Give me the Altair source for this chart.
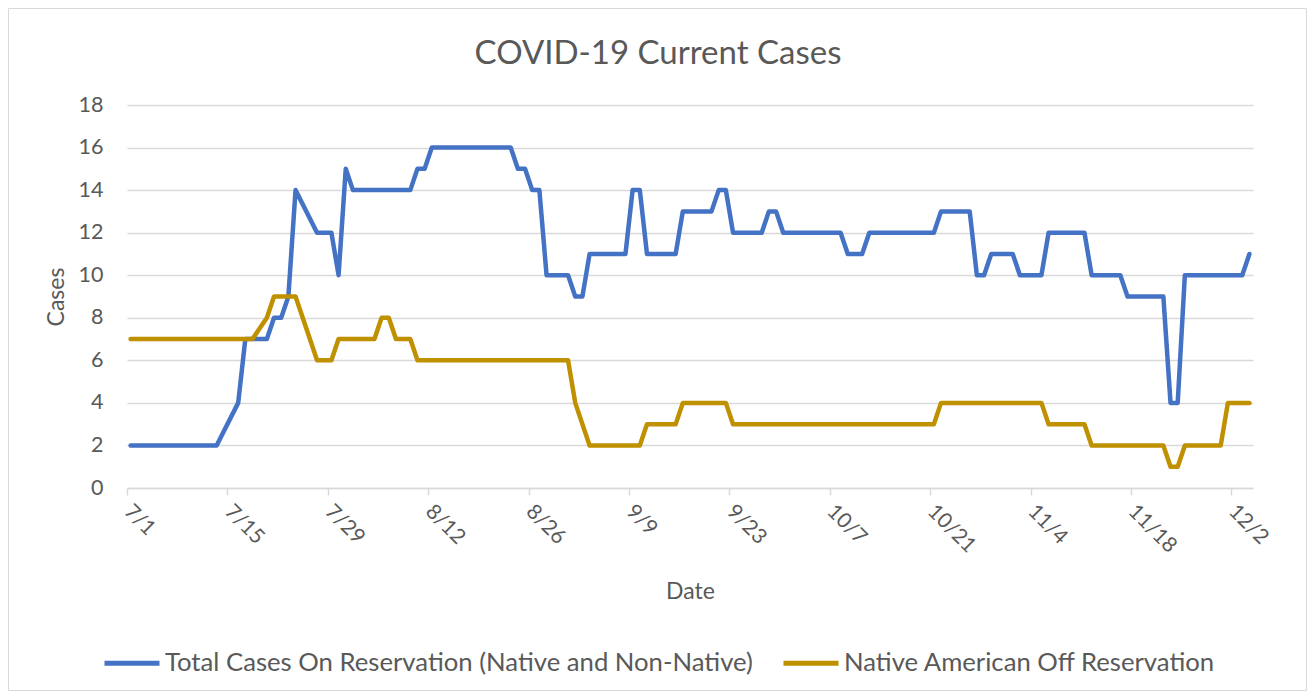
import altair as alt
import pandas as pd

# ---- data ----
total_dates = [
    "2020-07-01", "2020-07-13", "2020-07-16", "2020-07-17", "2020-07-20", "2020-07-21",
    "2020-07-22", "2020-07-23", "2020-07-24", "2020-07-27", "2020-07-29", "2020-07-30",
    "2020-07-31", "2020-08-01", "2020-08-09", "2020-08-10", "2020-08-11", "2020-08-12",
    "2020-08-23", "2020-08-24", "2020-08-25", "2020-08-26", "2020-08-27", "2020-08-28",
    "2020-08-31", "2020-09-01", "2020-09-02", "2020-09-03", "2020-09-08", "2020-09-09",
    "2020-09-10", "2020-09-11", "2020-09-15", "2020-09-16", "2020-09-20", "2020-09-21",
    "2020-09-22", "2020-09-23", "2020-09-27", "2020-09-28", "2020-09-29", "2020-09-30",
    "2020-10-08", "2020-10-09", "2020-10-11", "2020-10-12", "2020-10-21", "2020-10-22",
    "2020-10-26", "2020-10-27", "2020-10-28", "2020-10-29", "2020-11-01", "2020-11-02",
    "2020-11-05", "2020-11-06", "2020-11-11", "2020-11-12", "2020-11-16", "2020-11-17",
    "2020-11-22", "2020-11-23", "2020-11-24", "2020-11-25", "2020-12-03", "2020-12-04",
]
total_values = [
    2, 2, 4, 7, 7, 8,
    8, 9, 14, 12, 12, 10,
    15, 14, 14, 15, 15, 16,
    16, 15, 15, 14, 14, 10,
    10, 9, 9, 11, 11, 14,
    14, 11, 11, 13, 13, 14,
    14, 12, 12, 13, 13, 12,
    12, 11, 11, 12, 12, 13,
    13, 10, 10, 11, 11, 10,
    10, 12, 12, 10, 10, 9,
    9, 4, 4, 10, 10, 11,
]

native_dates = [
    "2020-07-01", "2020-07-18", "2020-07-20", "2020-07-21", "2020-07-24", "2020-07-27",
    "2020-07-29", "2020-07-30", "2020-08-04", "2020-08-05", "2020-08-06", "2020-08-07",
    "2020-08-09", "2020-08-10", "2020-08-31", "2020-09-01", "2020-09-03", "2020-09-10",
    "2020-09-11", "2020-09-15", "2020-09-16", "2020-09-22", "2020-09-23", "2020-10-21",
    "2020-10-22", "2020-11-05", "2020-11-06", "2020-11-11", "2020-11-12", "2020-11-22",
    "2020-11-23", "2020-11-24", "2020-11-25", "2020-11-30", "2020-12-01", "2020-12-04",
]
native_values = [
    7, 7, 8, 9, 9, 6,
    6, 7, 7, 8, 8, 7,
    7, 6, 6, 4, 2, 2,
    3, 3, 4, 4, 3, 3,
    4, 4, 3, 3, 2, 2,
    1, 1, 2, 2, 4, 4,
]

series_names = [
    "Total Cases On Reservation (Native and Non-Native)",
    "Native American Off Reservation",
]
series_colors = ["#4472C4", "#BF9000"]

chart_title = "COVID-19 Current Cases"

tick_dates = ["2020-07-01", "2020-07-15", "2020-07-29", "2020-08-12", "2020-08-26",
              "2020-09-09", "2020-09-23", "2020-10-07", "2020-10-21", "2020-11-04",
              "2020-11-18", "2020-12-02"]
y_ticks = [0, 2, 4, 6, 8, 10, 12, 14, 16, 18]

df = pd.concat([
    pd.DataFrame({"date": total_dates, "cases": total_values, "series": series_names[0]}),
    pd.DataFrame({"date": native_dates, "cases": native_values, "series": series_names[1]}),
])

FONT = "Lato"
GREY = "#595959"
W, H = 1126, 383


def dt(s):
    y, m, d = (int(v) for v in s.split("-"))
    return alt.DateTime(year=y, month=m, date=d, utc=True)


lines = alt.Chart(df).mark_line(strokeWidth=4.5, strokeCap="round", strokeJoin="round").encode(
    x=alt.X(
        "utcyearmonthdate(date):T",
        bandPosition=0.5,
        scale=alt.Scale(type="utc", domain=[dt("2020-07-01"), dt("2020-12-05")], nice=False),
        axis=alt.Axis(
            title="Date",
            values=[dt(s) for s in tick_dates],
            labelExpr="utcFormat(datum.value, '%-m/%-d')",
            labelAngle=45,
            labelAlign="left",
            labelBaseline="middle",
            labelFontSize=21,
            labelColor=GREY,
            labelPadding=13,
            labelFont=FONT,
            labelOverlap=False,
            grid=False,
            domainColor="#d9d9d9",
            domainWidth=1.5,
            tickColor="#d9d9d9",
            tickSize=7,
            tickWidth=1.5,
            titleFont=FONT,
            titleFontSize=23,
            titleFontWeight="normal",
            titleColor=GREY,
            titlePadding=24,
        ),
    ),
    y=alt.Y(
        "cases:Q",
        scale=alt.Scale(domain=[0, 18], nice=False),
        axis=alt.Axis(
            title="Cases",
            values=y_ticks,
            labelFontSize=21.5,
            labelColor=GREY,
            labelFont=FONT,
            labelPadding=24,
            domain=False,
            ticks=False,
            grid=True,
            gridColor="#d9d9d9",
            gridWidth=1.5,
            titleFont=FONT,
            titleFontSize=23,
            titleFontWeight="normal",
            titleColor=GREY,
            titlePadding=10,
        ),
    ),
    color=alt.Color(
        "series:N",
        scale=alt.Scale(domain=series_names, range=series_colors),
        legend=alt.Legend(
            title=None,
            orient="none",
            legendX=-25,
            legendY=528,
            direction="horizontal",
            symbolType="stroke",
            symbolSize=3025,
            symbolStrokeWidth=5,
            labelFontSize=25.7,
            labelFont=FONT,
            labelColor=GREY,
            labelOffset=3,
            labelLimit=0,
            columnPadding=20,
        ),
    ),
    detail="series:N",
)

title = alt.Chart(pd.DataFrame({"t": [chart_title]})).mark_text(
    font=FONT, fontSize=33, color=GREY, align="center", baseline="alphabetic"
).encode(text="t:N", x=alt.value(531), y=alt.value(-41))

border = alt.Chart(pd.DataFrame({"b": [0]})).mark_rect(
    fillOpacity=0, stroke="#d9d9d9", strokeWidth=1
).encode(
    x=alt.value(-118.5), x2=alt.value(W + 53.5), y=alt.value(-96.5), y2=alt.value(H + 202.5)
)

chart = alt.layer(border, title, lines).properties(
    width=W,
    height=H,
    padding={"left": 119, "top": 97, "right": 55, "bottom": 203},
    autosize=alt.AutoSizeParams(type="none"),
).configure_view(stroke=None)

chart.save("out.html", embed_options={"renderer": "svg", "actions": False})
